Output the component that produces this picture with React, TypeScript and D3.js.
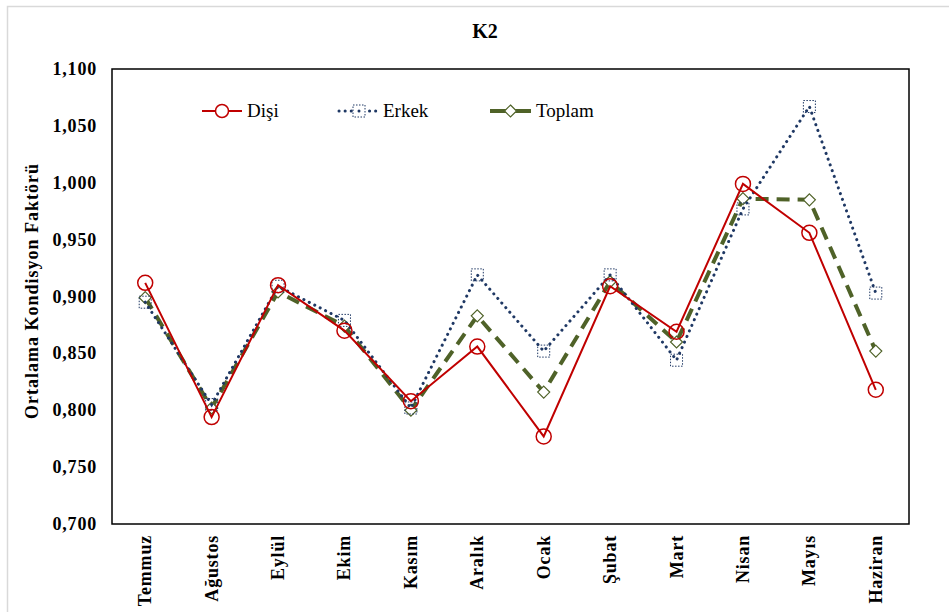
import React from "react";
import * as d3 from "d3";

const months = ["Temmuz", "Ağustos", "Eylül", "Ekim", "Kasım", "Aralık", "Ocak", "Şubat", "Mart", "Nisan", "Mayıs", "Haziran"];
const disi = [0.912, 0.794, 0.910, 0.870, 0.808, 0.856, 0.777, 0.909, 0.869, 0.999, 0.956, 0.818];
const erkek = [0.895, 0.805, 0.909, 0.879, 0.802, 0.919, 0.852, 0.919, 0.844, 0.977, 1.067, 0.903];
const toplam = [0.899, 0.802, 0.904, 0.874, 0.800, 0.883, 0.816, 0.913, 0.860, 0.986, 0.985, 0.852];
const yTicks = [0.7, 0.75, 0.8, 0.85, 0.9, 0.95, 1.0, 1.05, 1.1];

const W = 949, H = 612;
const L = 112, R = 909, T = 69, B = 524;
const FONT = "'Liberation Serif', 'Times New Roman', serif";

export default function App() {
  const x = d3.scaleBand<string>().domain(months).range([L, R]);
  const y = d3.scaleLinear().domain([0.7, 1.1]).range([B, T]);
  const cx = (i: number) => (x(months[i]) as number) + x.bandwidth() / 2;
  const line = (vals: number[]) =>
    d3.line<number>().x((_, i) => cx(i)).y((v) => y(v))(vals) as string;
  const fmt = (v: number) => d3.format(".3f")(v).replace(".", ",");

  const red = "#C00000", navy = "#1F3864", olive = "#4F6228";
  const ts = { fontFamily: FONT } as React.CSSProperties;

  const diamond = (px: number, py: number, s: number) =>
    `M${px},${py - s}L${px + s},${py}L${px},${py + s}L${px - s},${py}Z`;

  return (
    <svg width={W} height={H} style={{ position: "absolute", left: 0, top: 0, background: "#fff", fontFamily: FONT }}>
      <rect x={7.5} y={6.5} width={W + 10} height={H + 10} fill="#fff" stroke="#d9d9d9" strokeWidth={1.5} />
      <text style={ts} x={485} y={38} textAnchor="middle" fontWeight="bold" fontSize={20}>K2</text>

      {yTicks.map((t) => (
        <text style={ts} key={t} x={97} y={y(t) + 6} textAnchor="end" fontWeight="bold" fontSize={18} letterSpacing={0.8}>
          {fmt(t)}
        </text>
      ))}
      <text style={ts} transform={`translate(38,291) rotate(-90)`} textAnchor="middle" fontWeight="bold" fontSize={18} letterSpacing={1.0}>
        Ortalama Kondisyon Faktörü
      </text>

      {months.map((m, i) => (
        <text style={ts} key={m} transform={`translate(${cx(i) + 6},535) rotate(-90)`} textAnchor="end" fontWeight="bold" fontSize={18} letterSpacing={0.8}>
          {m}
        </text>
      ))}

      <path d={line(toplam)} fill="none" stroke={olive} strokeWidth={4} strokeDasharray="13,8" />
      {toplam.map((v, i) => (
        <path key={i} d={diamond(cx(i), y(v), 6)} fill="#fff" stroke={olive} strokeWidth={1.2} />
      ))}

      <path d={line(erkek)} fill="none" stroke={navy} strokeWidth={3} strokeDasharray="0.1,6" strokeLinecap="round" />
      {erkek.map((v, i) => (
        <rect key={i} x={cx(i) - 6} y={y(v) - 6} width={12} height={12} fill="none" stroke={navy} strokeWidth={1} strokeDasharray="1.5,1.5" />
      ))}

      <path d={line(disi)} fill="none" stroke={red} strokeWidth={2} />
      {disi.map((v, i) => (
        <circle key={i} cx={cx(i)} cy={y(v)} r={7.5} fill="none" stroke={red} strokeWidth={1.5} />
      ))}

      <rect x={L} y={T} width={R - L} height={B - T} fill="none" stroke="#000" strokeWidth={1.5} />

      <g>
        <line x1={202} x2={242} y1={111} y2={111} stroke={red} strokeWidth={2} />
        <circle cx={222} cy={111} r={6.5} fill="#fff" stroke={red} strokeWidth={1.5} />
        <text style={ts} x={247} y={117} fontSize={19}>Dişi</text>

        <line x1={339} x2={378} y1={111} y2={111} stroke={navy} strokeWidth={3} strokeDasharray="0.1,6" strokeLinecap="round" />
        <rect x={353} y={105} width={12} height={12} fill="#fff" stroke={navy} strokeWidth={1} strokeDasharray="1.5,1.5" />
        <circle cx={359} cy={111} r={1.5} fill={navy} />
        <text style={ts} x={383} y={117} fontSize={19}>Erkek</text>

        <line x1={490} x2={531} y1={111} y2={111} stroke={olive} strokeWidth={4} />
        <path d={diamond(510.5, 111, 6)} fill="#fff" stroke={olive} strokeWidth={1.2} />
        <text style={ts} x={536} y={117} fontSize={19}>Toplam</text>
      </g>
    </svg>
  );
}
